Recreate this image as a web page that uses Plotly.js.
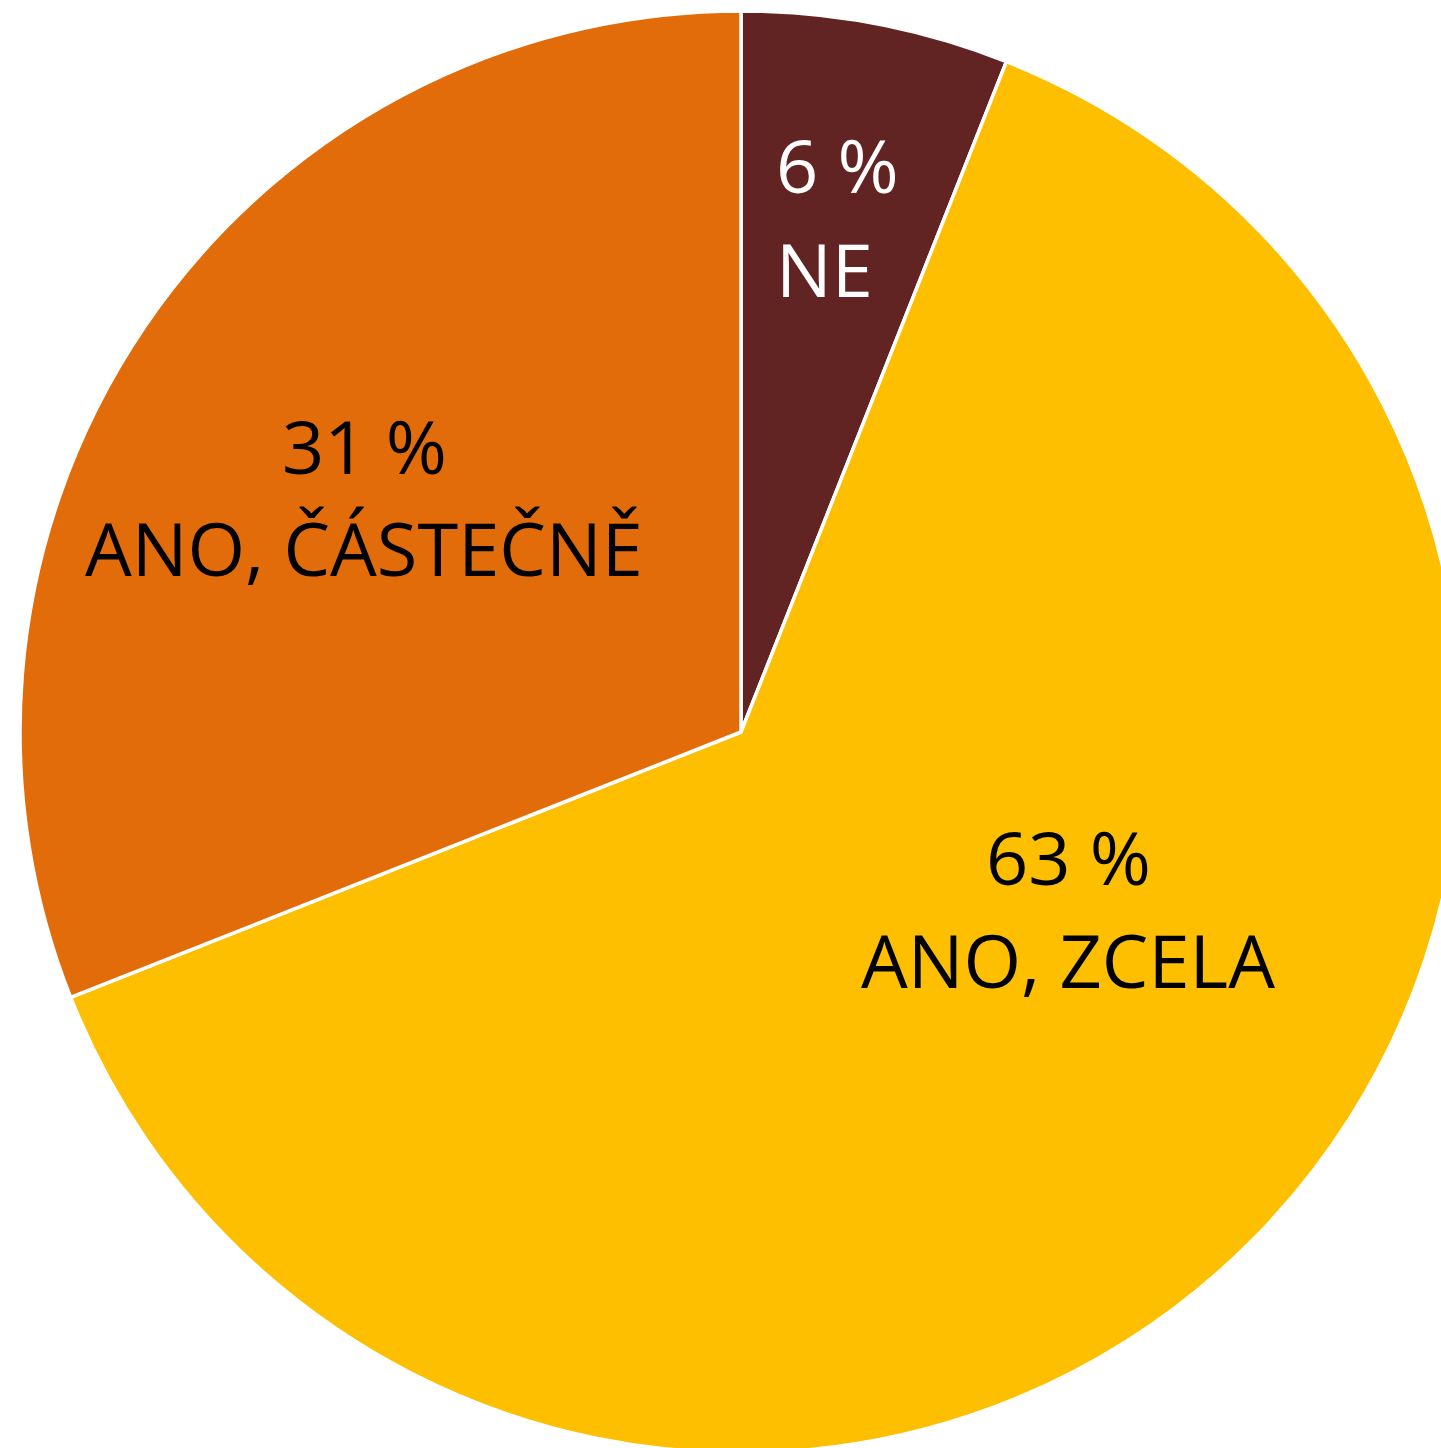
<!DOCTYPE html>
<html>
<head>
<meta charset="utf-8">
<script src="https://cdn.plot.ly/plotly-3.0.1.min.js"></script>
<style>
html,body{margin:0;padding:0;overflow:hidden;background:#fff;}
#chart{width:1462px;height:1453px;}
</style>
</head>
<body>
<div id="chart"></div>
<script>
const labels = ["NE", "ANO, ZCELA", "ANO, ČÁSTEČNĚ"];
const values = [6, 63, 31];
const colors = ["#612423", "#FDBF00", "#E36C0A"];
const textColors = ["#FFFFFF", "#000000", "#000000"];

// label placement (pixel positions of line centres; styling only)
const labelPos = [
  {x: 774, anchor: "left", y1: 165, y2: 268},
  {x: 1068, anchor: "center", y1: 856, y2: 959},
  {x: 364, anchor: "center", y1: 446, y2: 547}
];

const W = 1462, H = 1453, L = 20, T = 11, S = 1442;
const px = x => (x - L) / S;
const py = y => 1 - (y - T) / S;

const annotations = [];
labels.forEach((lab, i) => {
  const p = labelPos[i];
  const font = {family: "Open Sans, Noto Sans, sans-serif", size: 74, color: textColors[i]};
  annotations.push({x: px(p.x), y: py(p.y1), xref: "paper", yref: "paper",
    text: values[i] + " %", showarrow: false, xanchor: p.anchor, yanchor: "middle", font: font});
  annotations.push({x: px(p.x), y: py(p.y2), xref: "paper", yref: "paper",
    text: lab, showarrow: false, xanchor: p.anchor, yanchor: "middle", font: font});
});

const data = [{
  type: "pie",
  labels: labels,
  values: values,
  sort: false,
  direction: "clockwise",
  rotation: 0,
  textinfo: "none",
  hoverinfo: "none",
  marker: {colors: colors, line: {color: "#FFFFFF", width: 3.5}},
  domain: {x: [0, 1], y: [0, 1]}
}];

const layout = {
  width: W, height: H,
  margin: {l: L, r: 0, t: T, b: 0, pad: 0},
  showlegend: false,
  paper_bgcolor: "#FFFFFF",
  annotations: annotations
};

Plotly.newPlot("chart", data, layout, {staticPlot: true, displayModeBar: false});
</script>
</body>
</html>
